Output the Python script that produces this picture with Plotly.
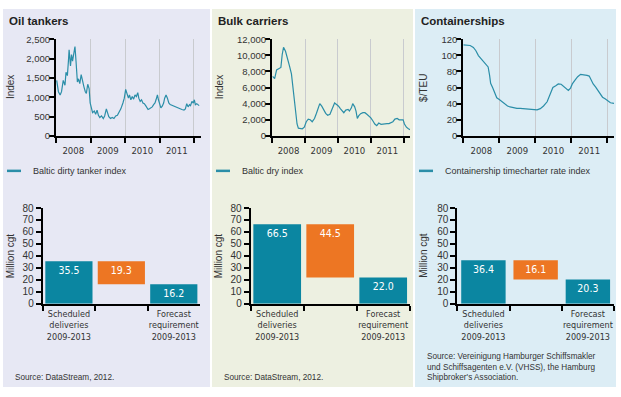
import plotly.graph_objects as go
import pandas as pd

W, H = 621, 397

# ---------------- data ----------------
oil_years = [2008.02, 2008.07, 2008.12, 2008.16, 2008.21, 2008.26, 2008.29, 2008.33, 2008.36, 2008.38,
             2008.42, 2008.45, 2008.48, 2008.52, 2008.55, 2008.58, 2008.62, 2008.65, 2008.69, 2008.73,
             2008.77, 2008.81, 2008.85, 2008.88, 2008.92, 2008.96, 2008.99, 2009.02, 2009.06, 2009.11,
             2009.15, 2009.19, 2009.23, 2009.27, 2009.32, 2009.37, 2009.41, 2009.46, 2009.49, 2009.53,
             2009.58, 2009.63, 2009.68, 2009.73, 2009.78, 2009.83, 2009.88, 2009.94, 2009.98, 2010.02,
             2010.06, 2010.10, 2010.13, 2010.17, 2010.21, 2010.25, 2010.29, 2010.33, 2010.37, 2010.40,
             2010.44, 2010.48, 2010.52, 2010.56, 2010.60, 2010.63, 2010.67, 2010.71, 2010.75, 2010.79,
             2010.83, 2010.87, 2010.90, 2010.94, 2010.97, 2011.00, 2011.04, 2011.08, 2011.12, 2011.15,
             2011.19, 2011.23, 2011.27, 2011.31, 2011.37, 2011.42, 2011.48, 2011.54, 2011.60, 2011.65,
             2011.71, 2011.75, 2011.79, 2011.83, 2011.87, 2011.90, 2011.94, 2011.98, 2012.01, 2012.04,
             2012.08, 2012.12, 2012.15]
oil_index = [1436, 1144, 1060, 1144, 1436, 1311, 1645, 1561, 1937, 2229,
             1812, 2104, 1937, 2188, 2313, 1937, 1394, 1478, 1353, 1587,
             1394, 1269, 1144, 1102, 1336, 1227, 852, 726, 601, 643,
             559, 668, 534, 476, 518, 451, 518, 701, 601, 501,
             451, 476, 451, 518, 534, 601, 701, 852, 977, 1202,
             1102, 977, 1060, 935, 1019, 952, 1060, 1019, 1119, 977,
             893, 935, 852, 835, 785, 752, 685, 701, 726, 752,
             810, 852, 935, 1060, 935, 810, 726, 768, 852, 977,
             1060, 977, 852, 810, 785, 768, 752, 726, 701, 685,
             668, 701, 835, 752, 810, 785, 893, 852, 935, 810,
             835, 810, 785]

bulk_years = [2008.02, 2008.08, 2008.14, 2008.20, 2008.27, 2008.31, 2008.35, 2008.41, 2008.47, 2008.53,
              2008.59, 2008.63, 2008.67, 2008.71, 2008.76, 2008.80, 2008.86, 2008.92, 2008.98, 2009.04,
              2009.10, 2009.16, 2009.22, 2009.29, 2009.35, 2009.41, 2009.45, 2009.51, 2009.57, 2009.63,
              2009.69, 2009.76, 2009.80, 2009.84, 2009.90, 2009.96, 2010.02, 2010.08, 2010.14, 2010.18,
              2010.24, 2010.31, 2010.35, 2010.41, 2010.45, 2010.51, 2010.55, 2010.59, 2010.63, 2010.69,
              2010.76, 2010.82, 2010.88, 2010.94, 2011.00, 2011.06, 2011.12, 2011.18, 2011.24, 2011.31,
              2011.37, 2011.43, 2011.49, 2011.55, 2011.61, 2011.67, 2011.73, 2011.80, 2011.86, 2011.92,
              2011.98, 2012.02, 2012.08, 2012.14, 2012.20]
bulk_index = [7384, 7103, 8187, 8387, 8508, 10113, 10996, 10514, 9711, 8708,
              7705, 6300, 4495, 2689, 1485, 963, 883, 883, 1084, 1766,
              2087, 2007, 1766, 2167, 2809, 3612, 4013, 3692, 3210, 2809,
              2568, 2689, 3090, 3612, 4093, 3893, 3692, 3371, 3090, 2889,
              3210, 3291, 3090, 3491, 4013, 3612, 3090, 2167, 2488, 2769,
              2889, 2889, 2689, 2488, 2247, 1886, 1485, 1284, 1605, 1445,
              1485, 1565, 1525, 1525, 1605, 1766, 2087, 2167, 2007, 2007,
              2007, 1485, 1084, 883, 762]

cont_years = [2008.00, 2008.09, 2008.19, 2008.28, 2008.35, 2008.42, 2008.48, 2008.56, 2008.63, 2008.69,
              2008.73, 2008.76, 2008.82, 2008.87, 2008.93, 2009.00, 2009.08, 2009.15, 2009.23, 2009.30,
              2009.40, 2009.49, 2009.58, 2009.67, 2009.77, 2009.86, 2009.95, 2010.05, 2010.14, 2010.23,
              2010.33, 2010.38, 2010.44, 2010.49, 2010.57, 2010.64, 2010.72, 2010.79, 2010.87, 2010.92,
              2010.98, 2011.03, 2011.11, 2011.18, 2011.26, 2011.35, 2011.44, 2011.50, 2011.55, 2011.61,
              2011.68, 2011.76, 2011.81, 2011.87, 2011.94, 2012.02, 2012.09, 2012.19]
cont_rate = [113.1, 113.1, 112.3, 109.9, 105.8, 99.8, 96.6, 92.9, 88.9, 85.6,
             75.5, 65.4, 59.4, 53.3, 47.3, 45.2, 42.0, 39.2, 37.2, 36.0,
             34.7, 34.3, 34.3, 33.9, 33.5, 33.1, 32.3, 32.3, 33.9, 37.2,
             42.4, 47.3, 54.1, 60.2, 62.2, 64.6, 64.2, 61.4, 58.2, 56.6,
             59.4, 64.6, 69.5, 73.5, 76.4, 76.0, 75.1, 74.3, 69.5, 64.6,
             60.6, 55.3, 51.3, 48.1, 46.1, 43.2, 41.2, 40.4]

bar_categories = ["Scheduled<br>deliveries<br>2009-2013", " ", "Forecast<br>requirement<br>2009-2013"]
oil_bars = [35.5, 19.3, 16.2]     # scheduled, surplus, forecast
bulk_bars = [66.5, 44.5, 22.0]
cont_bars = [36.4, 16.1, 20.3]

panel_titles = ["Oil tankers", "Bulk carriers", "Containerships"]
legend_names = ["Baltic dirty tanker index", "Baltic dry index", "Containership timecharter rate index"]
top_y_titles = ["Index", "Index", "$/TEU"]
bottom_y_title = "Million cgt"
sources = ["Source: DataStream, 2012.",
           "Source: DataStream, 2012.",
           "Source: Vereinigung Hamburger Schiffsmakler<br>und Schiffsagenten e.V. (VHSS), the Hamburg<br>Shipbroker's Association."]

# ---------------- style ----------------
FONT = "Liberation Sans, Arial, sans-serif"
NARROW = "Liberation Sans Narrow, Arial Narrow, DejaVu Sans Condensed, sans-serif"
TXT = "#333333"
LINE = "#2b8ea8"
TEAL = "#0b86a1"
ORANGE = "#ed7623"
BGS = ["#e7e8f4", "#edf0e1", "#dcedf5"]
GRID = "#c9cbcf"

def fx(p):
    return p / W

def fy(p):
    return 1 - p / H

def to_dates(yrs):
    base = pd.Timestamp("2008-01-01")
    return [base + pd.to_timedelta((y - 2008) * 365.25, unit="D") for y in yrs]

fig = go.Figure()

# panel geometry (pixels)
panels_x = [(3, 210), (212, 413), (415, 616)]
top_dom_x = [(56, 200.5), (272, 410), (463.3, 614)]
bot_dom_x = [(42.7, 200), (250.7, 409.7), (457.3, 614)]
top_dom_y = (fy(134), fy(34.3))
bot_dom_y = (fy(307), fy(208.3))
top_title_x = [10.5, 219.7, 423.3]
bot_title_x = [10.5, 218.5, 424]

series = [(oil_years, oil_index), (bulk_years, bulk_index), (cont_years, cont_rate)]
bars = [oil_bars, bulk_bars, cont_bars]
top_ranges = [(0, 2500, 500), (0, 12000, 2000), (0, 120, 20)]
bar_widths = [0.9, 0.9, 0.85]

shapes = []
annotations = []
layout_axes = {}

for i in range(3):
    tx = "x" if i == 0 else f"x{i+1}"
    ty = "y" if i == 0 else f"y{i+1}"
    bx = f"x{i+4}"
    by = f"y{i+4}"

    yrs, vals = series[i]
    fig.add_trace(go.Scatter(x=to_dates(yrs), y=vals, mode="lines",
                             line=dict(color=LINE, width=1.2),
                             name=legend_names[i], showlegend=False,
                             xaxis=tx, yaxis=ty))

    sched, gap, fc = bars[i]
    vals_b = [sched, gap, fc]
    fig.add_trace(go.Bar(x=bar_categories, y=vals_b, base=[0, fc, 0],
                         width=bar_widths[i],
                         marker=dict(color=[TEAL, ORANGE, TEAL], line=dict(width=0)),
                         text=[f"{v:.1f}" for v in vals_b],
                         textposition="inside", insidetextanchor="end",
                         textangle=0, constraintext="none",
                         insidetextfont=dict(family=NARROW, size=10.5, color="white"),
                         showlegend=False, xaxis=bx, yaxis=by))

    lo, hi, dt = top_ranges[i]
    tkey = "xaxis" if i == 0 else f"xaxis{i+1}"
    ykey = "yaxis" if i == 0 else f"yaxis{i+1}"
    layout_axes[tkey] = dict(
        domain=[fx(top_dom_x[i][0]), fx(top_dom_x[i][1])], anchor=ty,
        type="date", range=["2008-01-01", "2012-03-10"],
        dtick="M12", tick0="2008-01-01", ticklabelmode="period", tickformat="%Y",
        ticks="outside", ticklen=5, tickwidth=2, tickcolor="black",
        showline=True, linecolor="black", linewidth=2,
        showgrid=True, gridcolor=GRID, gridwidth=1, zeroline=False,
        tickfont=dict(family=NARROW, size=9.5, color=TXT))
    layout_axes[ykey] = dict(
        domain=list(top_dom_y), anchor=tx, range=[lo, hi], dtick=dt, tickformat=",",
        ticks="outside", ticklen=5, tickwidth=2, tickcolor="black",
        showline=True, linecolor="black", linewidth=2, showgrid=False, zeroline=False,
        ticklabelstandoff=-3,
        tickfont=dict(family=FONT, size=9.5, color=TXT))

    layout_axes[f"xaxis{i+4}"] = dict(
        domain=[fx(bot_dom_x[i][0]), fx(bot_dom_x[i][1])], anchor=by,
        type="category", tickson="boundaries", tickangle=0,
        ticks="outside", ticklen=5, tickwidth=2, tickcolor="black",
        showline=True, linecolor="black", linewidth=2, showgrid=False, zeroline=False,
        tickfont=dict(family=NARROW, size=9, color=TXT))
    layout_axes[f"yaxis{i+4}"] = dict(
        domain=list(bot_dom_y), anchor=bx, range=[0, 80], dtick=10,
        ticks="outside", ticklen=5, tickwidth=2, tickcolor="black",
        showline=True, linecolor="black", linewidth=2, showgrid=False, zeroline=False,
        tickfont=dict(family=FONT, size=10, color=TXT))

    # axis titles (rotated)
    annotations.append(dict(text=top_y_titles[i], xref="paper", yref="paper",
                            x=fx(top_title_x[i]), y=(top_dom_y[0] + top_dom_y[1]) / 2,
                            xanchor="center", yanchor="middle", textangle=-90,
                            showarrow=False, font=dict(family=FONT, size=10, color=TXT)))
    annotations.append(dict(text=bottom_y_title, xref="paper", yref="paper",
                            x=fx(bot_title_x[i]), y=(bot_dom_y[0] + bot_dom_y[1]) / 2,
                            xanchor="center", yanchor="middle", textangle=-90,
                            showarrow=False, font=dict(family=FONT, size=10, color=TXT)))

    # panel background
    x0, x1 = panels_x[i]
    shapes.append(dict(type="rect", xref="paper", yref="paper", layer="below",
                       x0=fx(x0), x1=fx(x1), y0=fy(393), y1=fy(3),
                       fillcolor=BGS[i], line=dict(width=0)))

    # title
    annotations.append(dict(text=f"<b>{panel_titles[i]}</b>", xref="paper", yref="paper",
                            x=fx(x0 + 4), y=fy(15), xanchor="left", yanchor="middle",
                            showarrow=False, font=dict(family=FONT, size=11.5, color="#222222")))

    # legend (line sample + label)
    shapes.append(dict(type="line", xref="paper", yref="paper",
                       x0=fx(x0 + 4), x1=fx(x0 + 18), y0=fy(170), y1=fy(170),
                       line=dict(color=LINE, width=2.5)))
    annotations.append(dict(text=legend_names[i], xref="paper", yref="paper",
                            x=fx(x0 + 28), y=fy(170), xanchor="left", yanchor="middle",
                            showarrow=False, font=dict(family=FONT, size=9, color=TXT)))

    # source
    annotations.append(dict(text=sources[i], xref="paper", yref="paper",
                            x=fx(x0 + 10), y=fy(390), xanchor="left", yanchor="bottom",
                            align="left", showarrow=False,
                            font=dict(family=FONT, size=8.2, color=TXT)))

fig.update_layout(
    width=W, height=H, margin=dict(l=0, r=0, t=0, b=0),
    paper_bgcolor="white", plot_bgcolor="rgba(0,0,0,0)",
    font=dict(family=FONT, size=10, color=TXT),
    shapes=shapes, annotations=annotations, showlegend=False,
    **layout_axes)

fig.write_html("out.html", config={"displayModeBar": False},
               post_script="document.body.style.margin='0';document.body.style.overflow='hidden';")
